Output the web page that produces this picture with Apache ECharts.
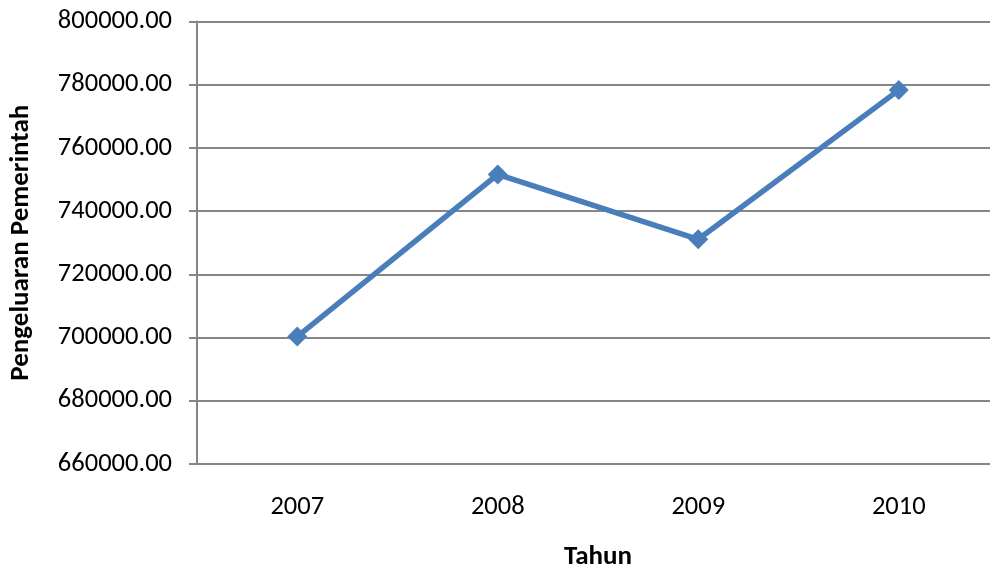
<!DOCTYPE html>
<html>
<head>
<meta charset="utf-8">
<script src="https://cdn.jsdelivr.net/npm/echarts@6/dist/echarts.min.js"></script>
<style>
  html, body { margin: 0; padding: 0; background: #ffffff; }
  #chart { width: 990px; height: 571px; }
</style>
</head>
<body>
<div id="chart"></div>
<script>
// Government spending by year
var years = ['2007', '2008', '2009', '2010'];
var spending = [700300, 751600, 731100, 778300];
var yMin = 660000, yMax = 800000, yStep = 20000;

var font = 'Carlito, "Open Sans", "Noto Sans", sans-serif';
var chart = echarts.init(document.getElementById('chart'));
chart.setOption({
  animation: false,
  grid: {
    left: 197, top: 21.5, width: 802, height: 442.5,
    containLabel: false, outerBoundsMode: 'none'
  },
  xAxis: {
    type: 'category',
    data: years,
    boundaryGap: true,
    name: 'Tahun',
    nameLocation: 'middle',
    nameGap: 80,
    nameTextStyle: { fontFamily: font, fontSize: 27, fontWeight: 'bold', color: '#000' },
    axisLine: { lineStyle: { color: '#868686', width: 2 } },
    axisTick: { show: false },
    axisLabel: { margin: 30, fontFamily: font, fontSize: 26.5, color: '#000' },
    splitLine: { show: false }
  },
  yAxis: {
    type: 'value',
    min: yMin, max: yMax, interval: yStep,
    name: 'Pengeluaran Pemerintah',
    nameLocation: 'middle',
    nameGap: 162,
    nameRotate: 90,
    nameTextStyle: { fontFamily: font, fontSize: 27, fontWeight: 'bold', color: '#000' },
    axisLine: { show: true, lineStyle: { color: '#868686', width: 2 } },
    axisTick: { show: true, inside: false, length: 8, lineStyle: { color: '#868686', width: 2 } },
    axisLabel: {
      margin: 25, fontFamily: font, fontSize: 26.5, color: '#000',
      formatter: function (v) { return v.toFixed(2); }
    },
    splitLine: { show: true, lineStyle: { color: '#868686', width: 2 } }
  },
  series: [{
    type: 'line',
    data: spending,
    symbol: 'diamond',
    symbolSize: 20,
    lineStyle: { color: '#4a7ebb', width: 5.5 },
    itemStyle: { color: '#4a7ebb' }
  }]
});
</script>
</body>
</html>
